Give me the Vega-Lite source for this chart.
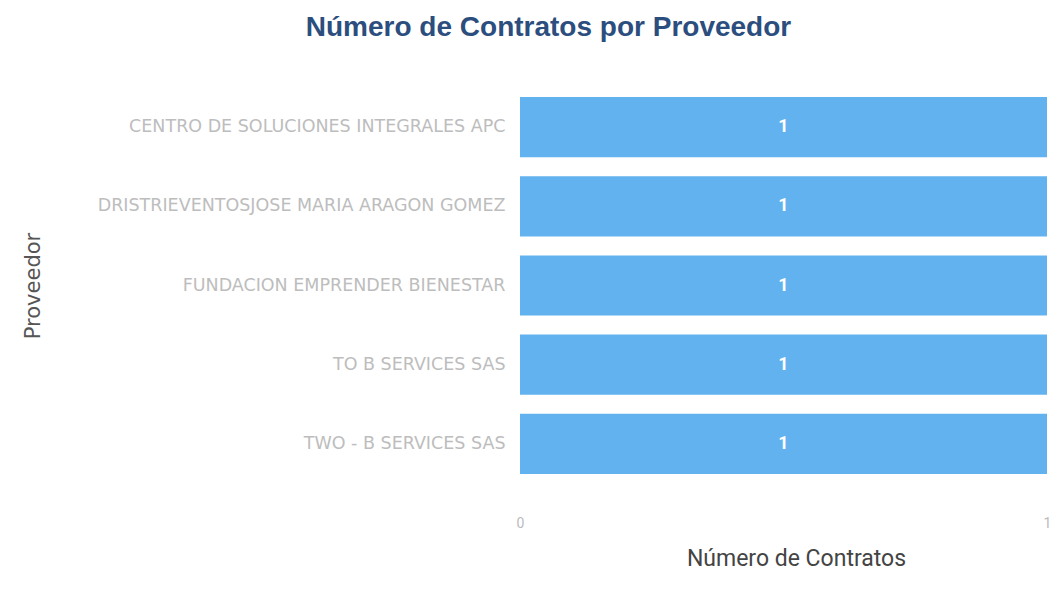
{
  "$schema": "https://vega.github.io/schema/vega-lite/v6.json",
  "autosize": "none",
  "width": 527,
  "height": 396,
  "padding": {"left": 520, "top": 87.5, "right": 11, "bottom": 109.5},
  "background": "#ffffff",
  "title": {
    "text": "Número de Contratos por Proveedor",
    "font": "Liberation Sans",
    "fontSize": 28,
    "fontWeight": "bold",
    "color": "#2b4e7e",
    "anchor": "middle",
    "dx": -235,
    "offset": 46
  },
  "data": {
    "values": [
      {"proveedor": "CENTRO DE SOLUCIONES INTEGRALES APC", "contratos": 1},
      {"proveedor": "DRISTRIEVENTOSJOSE MARIA ARAGON GOMEZ", "contratos": 1},
      {"proveedor": "FUNDACION EMPRENDER BIENESTAR", "contratos": 1},
      {"proveedor": "TO B SERVICES SAS", "contratos": 1},
      {"proveedor": "TWO - B SERVICES SAS", "contratos": 1}
    ]
  },
  "encoding": {
    "y": {
      "field": "proveedor",
      "type": "nominal",
      "sort": null,
      "scale": {"paddingInner": 0.24, "paddingOuter": 0.12},
      "axis": {
        "title": "Proveedor",
        "titleFont": "DejaVu Sans",
        "titleFontSize": 21,
        "titleFontWeight": "normal",
        "titleColor": "#555555",
        "titleX": -487,
        "titleY": 198,
        "titleAngle": -90,
        "titleAlign": "center",
        "titleBaseline": "middle",
        "labelFont": "DejaVu Sans",
        "labelFontSize": 17.5,
        "labelColor": "#bdbdbd",
        "labelPadding": 15,
        "labelLimit": 500,
        "domain": false,
        "ticks": false,
        "grid": false
      }
    }
  },
  "layer": [
    {
      "mark": {"type": "bar", "color": "#62b2ef"},
      "encoding": {
        "x": {
          "field": "contratos",
          "type": "quantitative",
          "scale": {"domain": [0, 1], "nice": false},
          "axis": {
            "title": "Número de Contratos",
            "titleFont": "Roboto",
            "titleFontSize": 23,
            "titleFontWeight": "normal",
            "titleColor": "#444444",
            "titleX": 276,
            "titleY": 74.5,
            "titleBaseline": "middle",
            "values": [0, 1],
            "format": "d",
            "labelFont": "Roboto",
            "labelFontSize": 14,
            "labelColor": "#bbbbbb",
            "labelPadding": 33,
            "labelFlush": false,
            "domain": false,
            "ticks": false,
            "grid": false
          }
        }
      }
    },
    {
      "mark": {"type": "text", "color": "#ffffff", "font": "Roboto", "fontSize": 18, "fontWeight": "bold", "align": "center", "baseline": "middle"},
      "encoding": {
        "x": {"datum": 0.5},
        "text": {"field": "contratos", "type": "quantitative"}
      }
    }
  ],
  "config": {"view": {"stroke": null}}
}
